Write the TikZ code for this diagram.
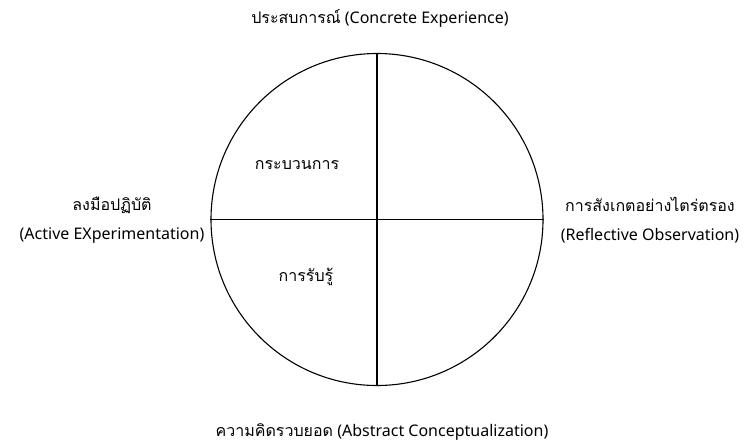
\documentclass[tikz,border=0pt]{standalone}
\usepackage{fontspec}
\setmainfont{Noto Sans}
\newfontfamily\thaifont[Script=Thai]{Loma}
\usetikzlibrary{positioning}
\newcommand{\thaitext}[1]{{\thaifont #1}}
\tikzset{
  label text/.style={font=\fontsize{16}{29}\selectfont, inner sep=1pt, align=center},
  quarter line/.style={line width=1.1pt}
}

\begin{document}
\begin{tikzpicture}[x=1pt, y=-1pt]
  \useasboundingbox (0,0) rectangle (746,445);

  % circle and the two axes
  \node[circle, draw, line width=1.1pt, minimum size=332pt, inner sep=0pt] (cycle) at (377,219.5) {};
  \draw[quarter line] (cycle.north) -- (cycle.south);
  \draw[quarter line] (cycle.west) -- (cycle.east);

  % four stages
  \node[label text] (experience) at (380,18) {\thaitext{ประสบการณ์} (Concrete Experience)};
  \node[label text] (observation) at (650,220) {\thaitext{การสังเกตอย่างไตร่ตรอง}\\(Reflective Observation)};
  \node[label text] (concept) at (382,432) {\thaitext{ความคิดรวบยอด} (Abstract Conceptualization)};
  \node[label text] (experiment) at (112,220) {\thaitext{ลงมือปฏิบัติ}\\(Active EXperimentation)};

  % inside the circle
  \node[label text] (process) at (297,165) {\thaitext{กระบวนการ}};
  \node[label text] (perceive) at (306,277) {\thaitext{การรับรู้}};
\end{tikzpicture}
\end{document}
